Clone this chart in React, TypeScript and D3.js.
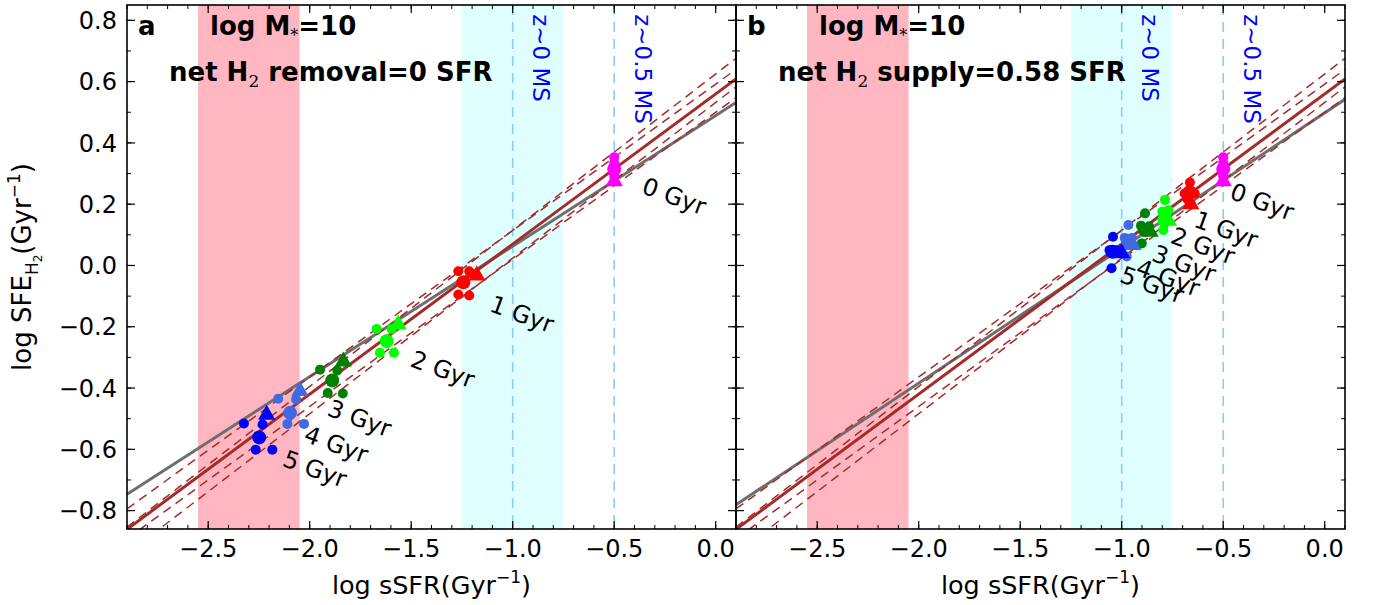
import React from 'react';
import * as d3 from 'd3';

// ---------- data ----------
const xDomain = [-2.9, 0.1];
const yDomain = [-0.86, 0.85];
const xMajorTicks = [-2.5, -2.0, -1.5, -1.0, -0.5, 0.0];
const yMajorTicks = [-0.8, -0.6, -0.4, -0.2, 0.0, 0.2, 0.4, 0.6, 0.8];
const pinkBand = [-2.55, -2.05];
const cyanBand = [-1.25, -0.75];
const msLines = [-1.0, -0.5];
const msLabels = ['z\u223C0 MS', 'z\u223C0.5 MS'];

const groupNames = ['0 Gyr', '1 Gyr', '2 Gyr', '3 Gyr', '4 Gyr', '5 Gyr'];
const groupColors = ['#ff00ff', '#ff0000', '#00ff00', '#008000', '#4169e1', '#0000ff'];

// panel a
const aSmall: number[][][] = [
  [[-0.5, 0.353], [-0.5, 0.335], [-0.5, 0.30], [-0.5, 0.29]],
  [[-1.268, -0.019], [-1.214, -0.019], [-1.268, -0.095], [-1.214, -0.098]],
  [[-1.670, -0.207], [-1.596, -0.207], [-1.654, -0.285], [-1.585, -0.285]],
  [[-1.949, -0.340], [-1.864, -0.343], [-1.911, -0.416], [-1.837, -0.418]],
  [[-2.155, -0.435], [-2.067, -0.437], [-2.110, -0.517], [-2.028, -0.517]],
  [[-2.324, -0.516], [-2.232, -0.519], [-2.266, -0.601], [-2.184, -0.601]],
];
const aLarge = [[-0.5, 0.315], [-1.243, -0.055], [-1.621, -0.247], [-1.889, -0.375], [-2.097, -0.481], [-2.249, -0.561]];
const aTri = [[-0.5, 0.275], [-1.177, -0.033], [-1.564, -0.193], [-1.834, -0.313], [-2.048, -0.410], [-2.212, -0.487]];
const aLabelPos = [[-0.205, 0.225], [-0.955, -0.160], [-1.345, -0.340], [-1.755, -0.500], [-1.870, -0.585], [-1.975, -0.665]];

// panel b
const bSmall: number[][][] = [
  [[-0.5, 0.353], [-0.5, 0.335], [-0.5, 0.30], [-0.5, 0.29]],
  [[-0.664, 0.271], [-0.69, 0.235], [-0.64, 0.235], [-0.675, 0.215]],
  [[-0.787, 0.214], [-0.80, 0.175], [-0.77, 0.18], [-0.795, 0.116]],
  [[-0.885, 0.170], [-0.905, 0.13], [-0.865, 0.128], [-0.901, 0.072]],
  [[-0.967, 0.132], [-0.985, 0.09], [-0.95, 0.09], [-0.975, 0.029]],
  [[-1.043, 0.094], [-1.06, 0.05], [-1.025, 0.05], [-1.05, -0.009]],
];
const bLarge = [[-0.5, 0.315], [-0.665, 0.24], [-0.79, 0.148], [-0.885, 0.116], [-0.97, 0.077], [-1.045, 0.045]];
const bTri = [[-0.5, 0.275], [-0.66, 0.20], [-0.77, 0.146], [-0.86, 0.11], [-0.945, 0.067], [-1.0, 0.04]];
const bLabelPos = [[-0.309, 0.207], [-0.486, 0.116], [-0.600, 0.063], [-0.693, 0.005], [-0.772, -0.041], [-0.851, -0.064]];

// fit lines: [intercept, slope]
const aGrayFit = [0.489, 0.426];
const bGrayFit = [0.498, 0.441];
const aBrownFit = [0.56, 0.49];
const bBrownFit = [0.56, 0.49];
const aBrownDashed = [[0.592, 0.478], [0.532, 0.508], [0.625, 0.51], [0.50, 0.48]];
const bBrownDashed = [[0.592, 0.478], [0.532, 0.508], [0.625, 0.51], [0.50, 0.48]];

// ---------- layout ----------
const W = 1375, H = 605;
const TOP = 5, BOTTOM = 529;
const FONT = 'DejaVu Sans, sans-serif';
const fmt = (v: number) => (Math.abs(v) < 1e-9 ? '0.0' : v.toFixed(1)).replace('-', '\u2212');

type PanelProps = {
  id: string; left: number; right: number; letter: string; line2: React.ReactNode;
  small: number[][][]; large: number[][]; tri: number[][]; labelPos: number[][];
  gray: number[]; brown: number[]; dashed: number[][]; showYLabels: boolean;
};

function Panel(p: PanelProps) {
  const x = d3.scaleLinear().domain(xDomain).range([p.left, p.right]);
  const y = d3.scaleLinear().domain(yDomain).range([BOTTOM, TOP]);
  const fitPath = (f: number[]) => {
    const pts = xDomain.map(v => [x(v), y(f[0] + f[1] * v)] as [number, number]);
    return d3.line()(pts) || '';
  };
  const xMinor = d3.range(-29, 2).map(i => i / 10);
  const yMinor = d3.range(-8, 9).map(i => i / 10);
  const tri = d3.symbol(d3.symbolTriangle, 130)() || '';
  const clip = `clip-${p.id}`;
  return (
    <g>
      <defs>
        <clipPath id={clip}><rect x={p.left} y={TOP} width={p.right - p.left} height={BOTTOM - TOP} /></clipPath>
      </defs>
      <g clipPath={`url(#${clip})`}>
        <rect x={x(pinkBand[0])} y={TOP} width={x(pinkBand[1]) - x(pinkBand[0])} height={BOTTOM - TOP} fill="#ffb6c1" />
        <rect x={x(cyanBand[0])} y={TOP} width={x(cyanBand[1]) - x(cyanBand[0])} height={BOTTOM - TOP} fill="#e0ffff" />
        {msLines.map((v, i) => (
          <line key={i} x1={x(v)} x2={x(v)} y1={TOP} y2={BOTTOM} stroke="#87cefa" strokeWidth={1.6} strokeDasharray="10,7" />
        ))}
        {msLabels.map((t, i) => (
          <text key={i} transform={`translate(${x(msLines[i] + 0.14)},${y(0.82)}) rotate(90)`}
            fontFamily={FONT} fontSize={23} fill="#0000ff" dominantBaseline="central">{t}</text>
        ))}
        <path d={fitPath(p.gray)} stroke="#6e6e6e" strokeWidth={3} fill="none" />
        {p.dashed.map((f, i) => (
          <path key={i} d={fitPath(f)} stroke="#a52a2a" strokeWidth={1.5} strokeDasharray="9,6" fill="none" />
        ))}
        <path d={fitPath(p.brown)} stroke="#a52a2a" strokeWidth={3} fill="none" />
        {p.small.map((g, gi) => g.map((pt, k) => (
          <circle key={`s${gi}-${k}`} cx={x(pt[0])} cy={y(pt[1])} r={5} fill={groupColors[gi]} />
        )))}
        {p.large.map((pt, gi) => (
          <circle key={`l${gi}`} cx={x(pt[0])} cy={y(pt[1])} r={7} fill={groupColors[gi]} />
        ))}
        {p.tri.map((pt, gi) => (
          <path key={`t${gi}`} d={tri} transform={`translate(${x(pt[0])},${y(pt[1])})`} fill={groupColors[gi]} />
        ))}
        {p.labelPos.map((pt, gi) => (
          <text key={`g${gi}`} transform={`translate(${x(pt[0])},${y(pt[1])}) rotate(20)`} textAnchor="middle"
            dominantBaseline="central" fontFamily={FONT} fontSize={24} fill="#000">{groupNames[gi]}</text>
        ))}
      </g>
      {/* ticks */}
      {xMinor.map((v, i) => (
        <g key={`xm${i}`}>
          <line x1={x(v)} x2={x(v)} y1={BOTTOM} y2={BOTTOM - 4} stroke="#000" strokeWidth={1} />
          <line x1={x(v)} x2={x(v)} y1={TOP} y2={TOP + 4} stroke="#000" strokeWidth={1} />
        </g>
      ))}
      {xMajorTicks.map((v, i) => (
        <g key={`xM${i}`}>
          <line x1={x(v)} x2={x(v)} y1={BOTTOM} y2={BOTTOM - 8} stroke="#000" strokeWidth={1.2} />
          <line x1={x(v)} x2={x(v)} y1={TOP} y2={TOP + 8} stroke="#000" strokeWidth={1.2} />
          <text x={x(v)} y={557} textAnchor="middle" fontFamily={FONT} fontSize={24}>{fmt(v)}</text>
        </g>
      ))}
      {yMinor.map((v, i) => (
        <g key={`ym${i}`}>
          <line x1={p.left} x2={p.left + 4} y1={y(v)} y2={y(v)} stroke="#000" strokeWidth={1} />
          <line x1={p.right} x2={p.right - 4} y1={y(v)} y2={y(v)} stroke="#000" strokeWidth={1} />
        </g>
      ))}
      {yMajorTicks.map((v, i) => (
        <g key={`yM${i}`}>
          <line x1={p.left} x2={p.left + 8} y1={y(v)} y2={y(v)} stroke="#000" strokeWidth={1.2} />
          <line x1={p.right} x2={p.right - 8} y1={y(v)} y2={y(v)} stroke="#000" strokeWidth={1.2} />
          {p.showYLabels && (
            <text x={p.left - 10} y={y(v)} dy="0.36em" textAnchor="end" fontFamily={FONT} fontSize={24}>{fmt(v)}</text>
          )}
        </g>
      ))}
      <rect x={p.left} y={TOP} width={p.right - p.left} height={BOTTOM - TOP} fill="none" stroke="#000" strokeWidth={1.6} />
      {/* annotations */}
      <text x={p.left + 11} y={35} fontFamily={FONT} fontSize={26} fontWeight="bold">{p.letter}</text>
      <text x={p.left + 83} y={35} fontFamily={FONT} fontSize={26} fontWeight="bold">
        log M<tspan dy={6} fontSize={16} fontWeight="normal" fontFamily="DejaVu Serif, serif">*</tspan>
        <tspan dy={-6}>=10</tspan>
      </text>
      <text x={p.left + 42} y={81} fontFamily={FONT} fontSize={26} fontWeight="bold">{p.line2}</text>
      {/* x label */}
      <text x={(p.left + p.right) / 2} y={594} textAnchor="middle" fontFamily={FONT} fontSize={25.5}>
        log sSFR(Gyr<tspan dy={-11} fontSize={17}>{'\u22121'}</tspan><tspan dy={11}>)</tspan>
      </text>
    </g>
  );
}

const h2 = (after: string) => (
  <>
    net H<tspan dy={6} fontSize={17} fontWeight="normal" fontFamily="DejaVu Serif, serif">2</tspan>
    <tspan dy={-6}>{after}</tspan>
  </>
);

export default function App() {
  return (
    <svg width={W} height={H} style={{ position: 'absolute', left: 0, top: 0, background: '#fff' }}>
      <rect width={W} height={H} fill="#fff" />
      <Panel id="a" left={127} right={736} letter="a" line2={h2(' removal=0 SFR')}
        small={aSmall} large={aLarge} tri={aTri} labelPos={aLabelPos}
        gray={aGrayFit} brown={aBrownFit} dashed={aBrownDashed} showYLabels={true} />
      <Panel id="b" left={736} right={1345} letter="b" line2={h2(' supply=0.58 SFR')}
        small={bSmall} large={bLarge} tri={bTri} labelPos={bLabelPos}
        gray={bGrayFit} brown={bBrownFit} dashed={bBrownDashed} showYLabels={false} />
      <text transform="translate(31,267) rotate(-90)" textAnchor="middle" fontFamily={FONT} fontSize={26}>
        log SFE<tspan dy={7} fontSize={17}>H</tspan><tspan dy={4} fontSize={12}>2</tspan>
        <tspan dy={-11}>(Gyr</tspan><tspan dy={-11} fontSize={17}>{'\u22121'}</tspan><tspan dy={11}>)</tspan>
      </text>
    </svg>
  );
}
